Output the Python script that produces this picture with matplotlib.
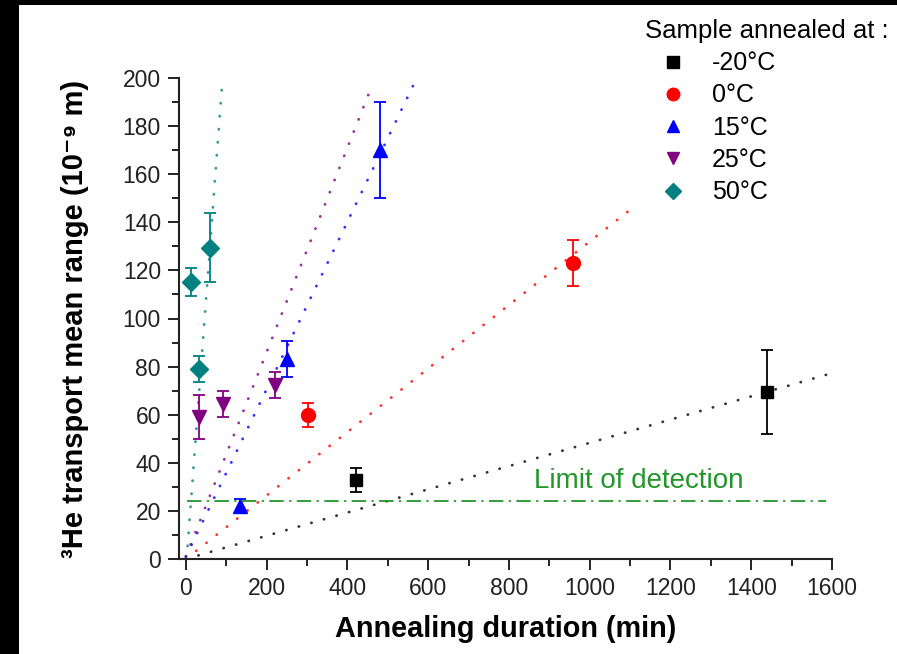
import matplotlib
matplotlib.use("Agg")
import matplotlib.pyplot as plt
from matplotlib.lines import Line2D
from matplotlib.patches import Rectangle
import numpy as np

plt.rcParams['font.family'] = ['Liberation Sans', 'DejaVu Sans']

# ---- data ----
series_labels = ['-20°C', '0°C', '15°C', '25°C', '50°C']
series_colors = ['#000000', '#ff0000', '#0000ff', '#800080', '#008080']
series_markers = ['s', 'o', '^', 'v', 'D']
series_msize = [9, 10, 10, 10, 9]

m20_x = [421, 1440]
m20_y = [33, 69.5]
m20_err = [5, 17.5]

p0_x = [302, 958]
p0_y = [60, 123]
p0_err = [5, 9.5]

p15_x = [133, 250, 480]
p15_y = [22, 83, 170]
p15_err = [3, 7.5, 20]

p25_x = [32, 92, 220]
p25_y = [59, 64.5, 72.5]
p25_err = [9.3, 5.4, 5.4]

p50_x = [12, 32, 61]
p50_y = [115, 79, 129.5]
p50_err = [5.8, 5.3, 14.3]

fit_slope = [0.0483, 0.132, 0.348, 0.425, 2.25]
fit_intercept = [0, 0, 1, 1, -4.5]
fit_xmin = [0, 0, 0, 0, 2]
fit_xmax = [1590, 1100, 565, 459, 89.6]

lod_value = 24
lod_x = [3, 1585]
lod_label = 'Limit of detection'

xs = [m20_x, p0_x, p15_x, p25_x, p50_x]
ys = [m20_y, p0_y, p15_y, p25_y, p50_y]
errs = [m20_err, p0_err, p15_err, p25_err, p50_err]

W, H = 897, 654
fig = plt.figure(figsize=(W / 100, H / 100), dpi=100)
fig.patch.set_facecolor('white')
ax = fig.add_axes([179 / W, 1 - 559 / H, (832 - 179) / W, (559 - 78) / H])

# black border bands like the reference
fig.patches.append(Rectangle((0, 1 - 5 / H), 1, 5 / H, transform=fig.transFigure,
                             facecolor='black', edgecolor='none', zorder=-1))
fig.patches.append(Rectangle((0, 0), 19 / W, 1, transform=fig.transFigure,
                             facecolor='black', edgecolor='none', zorder=-1))

# fit lines (dotted)
for k in range(5):
    fx = np.array([fit_xmin[k], fit_xmax[k]])
    fy = fit_slope[k] * fx + fit_intercept[k]
    ax.plot(fx, fy, linestyle=(0, (0.1, 4.6)), color=series_colors[k], lw=2.0,
            alpha=0.8, zorder=1, dash_capstyle='round')

# limit of detection
green = '#23962a'
ax.plot(lod_x, [lod_value, lod_value], color=green, lw=1.3,
        linestyle=(0, (8, 3, 1.2, 3)), zorder=1)
ax.text(862, lod_value + 3, lod_label, color=green, fontsize=20,
        ha='left', va='bottom')

# data with error bars
handles = []
for k in range(5):
    ax.errorbar(xs[k], ys[k], yerr=errs[k], fmt=series_markers[k],
                color=series_colors[k], ms=series_msize[k], capsize=4.5,
                elinewidth=1.3, capthick=1.3, zorder=3)
    handles.append(Line2D([], [], linestyle='none', marker=series_markers[k],
                          color=series_colors[k], ms=series_msize[k] - 1))

ax.set_xlim(-17, 1600)
ax.set_ylim(0, 200)
ax.set_xticks(np.arange(0, 1601, 200))
ax.set_xticks(np.arange(100, 1600, 200), minor=True)
ax.set_yticks(np.arange(0, 201, 20))
ax.set_yticks(np.arange(10, 200, 20), minor=True)

for s in ['top', 'right']:
    ax.spines[s].set_visible(False)
for s in ['left', 'bottom']:
    ax.spines[s].set_linewidth(1.5)
    ax.spines[s].set_color('#222222')

ax.tick_params(which='major', direction='out', length=8, width=1.4,
               labelsize=16.5, colors='#222222', pad=5)
ax.tick_params(which='minor', direction='out', length=5, width=1.4,
               colors='#222222')

ax.set_xlabel('Annealing duration (min)', fontsize=20.8, fontweight='bold',
              labelpad=11)
ax.set_ylabel('³He transport mean range (10⁻⁹ m)', fontsize=21,
              fontweight='bold', labelpad=24)

leg = ax.legend(handles, series_labels, title='Sample annealed at :',
                loc='upper left', bbox_to_anchor=(645 / W, 1 - 19 / H),
                bbox_transform=fig.transFigure, frameon=False, fontsize=18,
                title_fontsize=18.5, alignment='left', borderpad=0,
                borderaxespad=0, handlelength=2.24, handletextpad=0.44,
                labelspacing=0.33)

fig.savefig('out.png', dpi=100)
